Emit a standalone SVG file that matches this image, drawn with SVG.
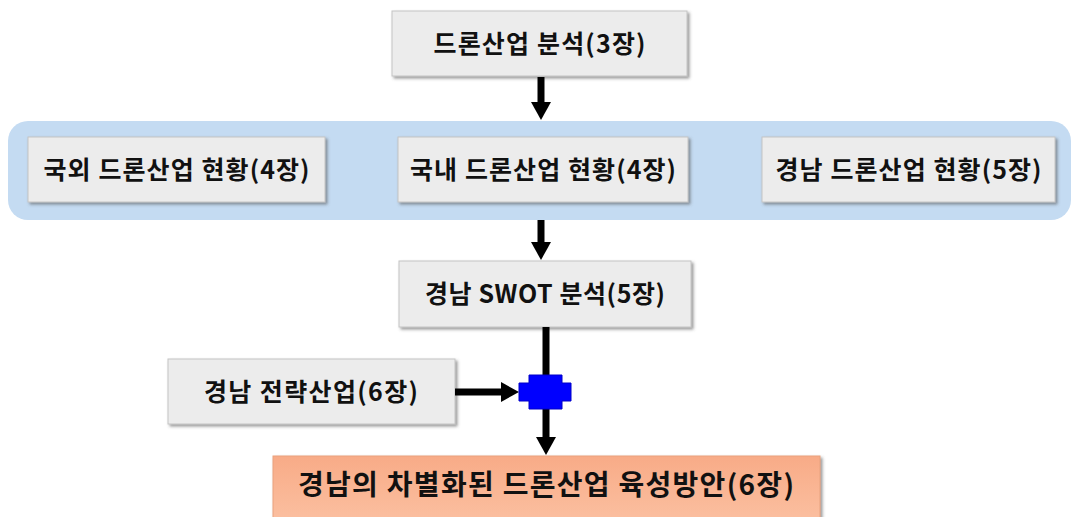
<svg xmlns="http://www.w3.org/2000/svg" width="1072" height="517" viewBox="0 0 1072 517">
<style>
.box{fill:#ececec;stroke:#c4c4c4;stroke-width:1;filter:url(#sh)}
.fin{fill:url(#og);stroke:#e9a27f;stroke-width:1;filter:url(#sh)}
.t{font-family:"Noto Sans CJK KR","Noto Sans",sans-serif;font-weight:bold;font-size:25px;fill:#111;text-anchor:middle}
.ft{font-size:28px}
.ln{stroke:#000;stroke-width:7;fill:none}
</style>
<defs>
<filter id="sh" x="-5%" y="-10%" width="115%" height="130%">
<feDropShadow dx="2" dy="2" stdDeviation="1.5" flood-color="#555" flood-opacity="0.6"/>
</filter>
<linearGradient id="og" x1="0" y1="0" x2="0" y2="1">
<stop offset="0" stop-color="#f8ab87"/>
<stop offset="1" stop-color="#fcc4a6"/>
</linearGradient>
<marker id="ah" viewBox="0 0 18 20" refX="0" refY="10" markerWidth="18" markerHeight="20" markerUnits="userSpaceOnUse" orient="auto">
<path d="M0,0 L18,10 L0,20 z" fill="#000"/>
</marker>
</defs>
<g id="band">
<rect x="8" y="121" width="1063" height="99" rx="20" ry="20" fill="#c4dbf2"/>
</g>
<g id="n-top">
<rect class="box" x="392" y="11" width="295" height="65"/>
<text class="t" x="539.5" y="52.5" textLength="212" lengthAdjust="spacing">드론산업 분석(3장)</text>
</g>
<g id="n-overseas">
<rect class="box" x="28" y="137" width="297" height="65"/>
<text class="t" x="176.5" y="178.5" textLength="266" lengthAdjust="spacing">국외 드론산업 현황(4장)</text>
</g>
<g id="n-domestic">
<rect class="box" x="398" y="137" width="290" height="65"/>
<text class="t" x="543" y="178.5" textLength="266" lengthAdjust="spacing">국내 드론산업 현황(4장)</text>
</g>
<g id="n-gyeongnam">
<rect class="box" x="762" y="137" width="293" height="65"/>
<text class="t" x="908.5" y="178.5" textLength="266" lengthAdjust="spacing">경남 드론산업 현황(5장)</text>
</g>
<g id="n-swot">
<rect class="box" x="399" y="261" width="292" height="66"/>
<text class="t" x="545" y="303" textLength="240" lengthAdjust="spacing">경남 SWOT 분석(5장)</text>
</g>
<g id="n-strategy">
<rect class="box" x="168" y="359" width="287" height="65"/>
<text class="t" x="311" y="400.5" textLength="214" lengthAdjust="spacing">경남 전략산업(6장)</text>
</g>
<g id="n-final">
<rect class="fin" x="273" y="456" width="547" height="80"/>
<text class="t ft" x="546" y="494.5" textLength="496" lengthAdjust="spacing">경남의 차별화된 드론산업 육성방안(6장)</text>
</g>
<g id="connectors">
<line class="ln" x1="541" y1="77" x2="541" y2="102" marker-end="url(#ah)"/>
<line class="ln" x1="541" y1="220" x2="541" y2="242" marker-end="url(#ah)"/>
<line class="ln" x1="546" y1="327" x2="546" y2="376"/>
<line class="ln" x1="546" y1="408" x2="546" y2="437" marker-end="url(#ah)"/>
<line class="ln" x1="455" y1="392" x2="501" y2="392" marker-end="url(#ah)"/>
<polygon id="junction" points="529,375 562,375 562,383 571,383 571,401 562,401 562,409 529,409 529,401 519,401 519,383 529,383" fill="#0000ff" stroke="#0000c8" stroke-width="1"/>
</g>
</svg>
